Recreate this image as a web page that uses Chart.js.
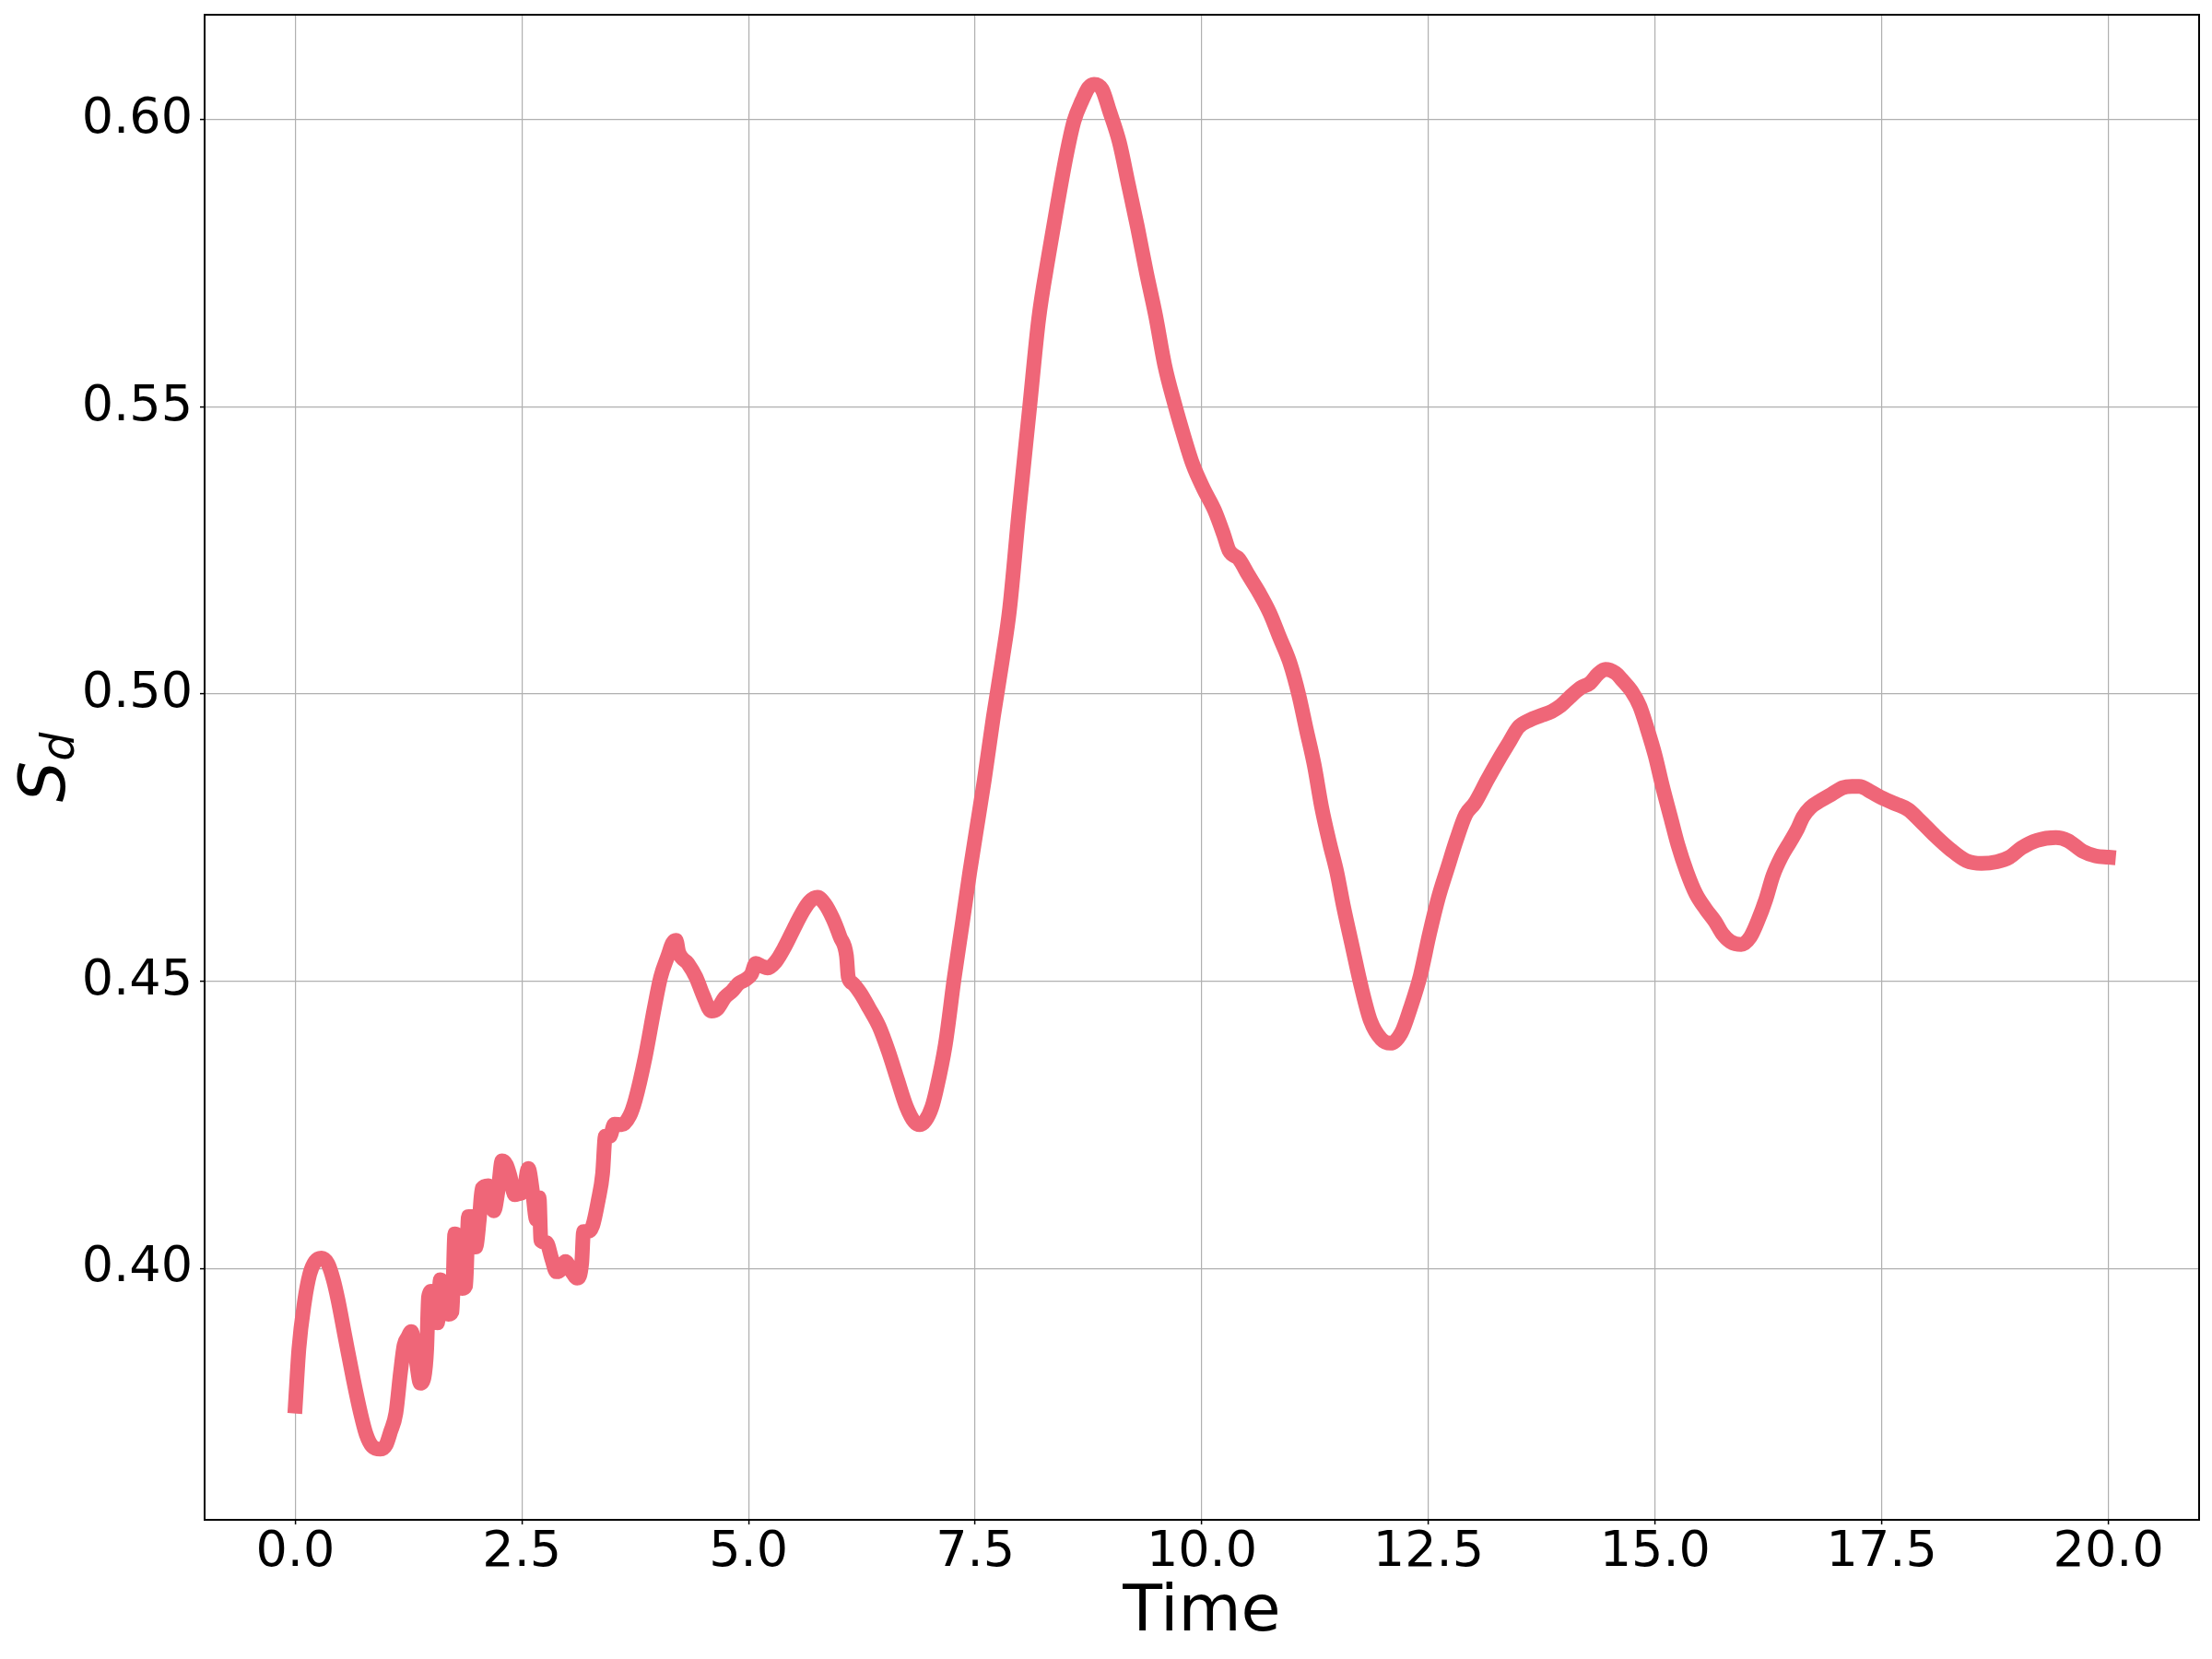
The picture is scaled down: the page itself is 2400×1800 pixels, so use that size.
<!DOCTYPE html>
<html><head><meta charset="utf-8">
<script src="https://cdn.jsdelivr.net/npm/chart.js@4"></script>
<style>html,body{margin:0;padding:0;background:#fff}canvas{display:block}</style>
</head><body>
<canvas id="c" width="2400" height="1800" style="width:2400px;height:1800px"></canvas>
<script>
const timeValues = [
 0.00,0.04,0.10,0.16,0.22,0.29,0.36,0.42,0.47,0.55,0.64,0.72,0.78,0.85,0.94,1.00,1.05,1.11,1.16,1.20,
 1.24,1.28,1.33,1.38,1.42,1.45,1.47,1.50,1.53,1.57,1.60,1.63,1.69,1.73,1.76,1.80,1.84,1.88,1.91,1.95,
 1.99,2.03,2.06,2.13,2.19,2.24,2.28,2.33,2.37,2.42,2.47,2.52,2.57,2.62,2.66,2.69,2.71,2.77,2.83,2.88,
 2.93,2.98,3.05,3.11,3.16,3.18,3.23,3.28,3.34,3.39,3.42,3.47,3.52,3.60,3.69,3.75,3.86,3.96,4.03,4.11,
 4.16,4.20,4.23,4.33,4.42,4.50,4.59,4.65,4.74,4.82,4.89,4.96,5.03,5.08,5.15,5.21,5.30,5.40,5.52,5.59,
 5.67,5.76,5.84,5.93,6.01,6.08,6.10,6.15,6.23,6.33,6.44,6.54,6.64,6.74,6.83,6.89,6.95,7.02,7.07,7.17,
 7.27,7.36,7.44,7.54,7.60,7.70,7.80,7.88,7.98,8.10,8.20,8.31,8.41,8.51,8.59,8.68,8.75,8.81,8.90,8.98,
 9.09,9.19,9.29,9.39,9.49,9.59,9.70,9.80,9.90,10.02,10.14,10.24,10.30,10.41,10.51,10.63,10.75,10.86,10.97,11.07,
 11.15,11.24,11.32,11.41,11.49,11.56,11.66,11.76,11.86,11.98,12.08,12.20,12.30,12.41,12.51,12.61,12.71,12.81,12.91,13.01,
 13.15,13.29,13.39,13.49,13.62,13.73,13.86,13.96,14.06,14.18,14.28,14.37,14.45,14.56,14.64,14.74,14.83,14.91,15.00,15.08,
 15.17,15.25,15.35,15.45,15.56,15.66,15.74,15.83,15.95,16.05,16.13,16.22,16.30,16.39,16.49,16.57,16.63,16.71,16.83,16.95,
 17.07,17.17,17.25,17.39,17.49,17.65,17.79,17.92,18.09,18.26,18.43,18.60,18.77,18.91,19.04,19.21,19.42,19.55,19.72,19.86,
 20.00
];
const sdValues = [
 0.3760,0.3860,0.3940,0.3990,0.4012,0.4018,0.4008,0.3980,0.3946,0.3880,0.3807,0.3748,0.3712,0.3690,0.3685,0.3692,0.3715,0.3748,0.3818,0.3866,
 0.3880,0.3890,0.3844,0.3800,0.3810,0.3860,0.3950,0.3960,0.3910,0.3905,0.3980,0.3970,0.3920,0.3925,0.4060,0.4050,0.3965,0.3970,0.4090,0.4090,
 0.4037,0.4085,0.4139,0.4144,0.4100,0.4139,0.4187,0.4180,0.4160,0.4128,0.4130,0.4135,0.4174,0.4130,0.4085,0.4123,0.4048,0.4045,0.4016,0.3994,
 0.3998,0.4012,0.3994,0.3983,0.4010,0.4064,0.4064,0.4074,0.4117,0.4165,0.4230,0.4230,0.4251,0.4250,0.4266,0.4293,0.4368,0.4453,0.4507,0.4544,
 0.4566,0.4571,0.4550,0.4531,0.4507,0.4475,0.4448,0.4451,0.4472,0.4483,0.4496,0.4502,0.4512,0.4531,0.4526,0.4523,0.4534,0.4560,0.4598,0.4619,
 0.4638,0.4646,0.4635,0.4609,0.4577,0.4544,0.4507,0.4496,0.4480,0.4453,0.4421,0.4379,0.4330,0.4282,0.4255,0.4250,0.4257,0.4280,0.4310,0.4389,
 0.4507,0.4603,0.4690,0.4790,0.4850,0.4960,0.5060,0.5149,0.5314,0.5499,0.5653,0.5764,0.5856,0.5942,0.5998,0.6034,0.6056,0.6062,0.6053,0.6016,
 0.5961,0.5887,0.5813,0.5733,0.5659,0.5573,0.5505,0.5450,0.5400,0.5357,0.5320,0.5278,0.5250,0.5235,0.5208,0.5177,0.5141,0.5098,0.5055,0.4998,
 0.4940,0.4876,0.4804,0.4740,0.4689,0.4632,0.4560,0.4489,0.4431,0.4399,0.4392,0.4410,0.4453,0.4510,0.4582,0.4646,0.4697,0.4747,0.4790,0.4810,
 0.4851,0.4890,0.4916,0.4942,0.4955,0.4962,0.4970,0.4980,0.4995,0.5011,0.5019,0.5035,0.5043,0.5037,0.5024,0.5005,0.4979,0.4941,0.4893,0.4840,
 0.4786,0.4738,0.4690,0.4652,0.4625,0.4604,0.4583,0.4569,0.4564,0.4577,0.4604,0.4642,0.4684,0.4716,0.4743,0.4765,0.4786,0.4802,0.4815,0.4826,
 0.4837,0.4839,0.4839,0.4829,0.4820,0.4809,0.4799,0.4780,0.4753,0.4729,0.4710,0.4705,0.4708,0.4716,0.4732,0.4745,0.4750,0.4745,0.4726,0.4718,
 0.4716
];
const xTickValues = [0, 2.5, 5, 7.5, 10, 12.5, 15, 17.5, 20];
const yTickValues = [0.40, 0.45, 0.50, 0.55, 0.60];
const xAxisLabel = 'Time';
const yLabelMain = 'S';
const yLabelSub = 'd';

const points = timeValues.map((t, i) => ({x: t, y: sdValues[i]}));

const framePlugin = {
  id: 'frame',
  afterDatasetsDraw(chart) {
    const {ctx, chartArea: a} = chart;
    ctx.save();
    ctx.strokeStyle = '#000';
    ctx.lineWidth = 2;
    ctx.strokeRect(a.left, a.top, a.right - a.left, a.bottom - a.top);
    ctx.restore();
  }
};

const yLabelPlugin = {
  id: 'ylabel',
  afterDraw(chart) {
    const ctx = chart.ctx, a = chart.chartArea;
    const cy = (a.top + a.bottom) / 2;
    ctx.save();
    ctx.translate(70, cy);
    ctx.rotate(-Math.PI / 2);
    ctx.fillStyle = '#000';
    ctx.textBaseline = 'alphabetic';
    ctx.textAlign = 'left';
    const big = 'italic 70px "DejaVu Sans"', small = 'italic 49px "DejaVu Sans"';
    ctx.font = big; const w1 = ctx.measureText(yLabelMain).width;
    ctx.font = small; const w2 = ctx.measureText(yLabelSub).width;
    const x0 = -(w1 + w2) / 2;
    ctx.font = big; ctx.fillText(yLabelMain, x0, 0);
    ctx.font = small; ctx.fillText(yLabelSub, x0 + w1, 10);
    ctx.restore();
  }
};

const zeroPad = s => { s.paddingTop = 0; s.paddingBottom = 0; s.paddingLeft = 0; s.paddingRight = 0; };
const tickFont = {family: 'DejaVu Sans', size: 54, lineHeight: 1};

new Chart(document.getElementById('c'), {
  type: 'line',
  data: {
    datasets: [{
      data: points,
      borderColor: '#ef6678',
      borderWidth: 16,
      pointRadius: 0,
      fill: false,
      cubicInterpolationMode: 'monotone',
      borderCapStyle: 'square',
      borderJoinStyle: 'round'
    }]
  },
  options: {
    responsive: false,
    animation: false,
    devicePixelRatio: 1,
    layout: {padding: {top: 16, right: 14, left: 0, bottom: 0}},
    plugins: {legend: {display: false}, tooltip: {enabled: false}},
    scales: {
      x: {
        type: 'linear', min: -1, max: 21,
        afterBuildTicks: s => { s.ticks = xTickValues.map(v => ({value: v})); },
        afterFit: s => { s.height = 151; zeroPad(s); },
        ticks: {font: tickFont, color: '#000', padding: 4, maxRotation: 0, autoSkip: false,
                callback: v => Number(v).toFixed(1)},
        grid: {color: '#b0b0b0', lineWidth: 1.2, tickLength: 5, tickColor: '#000', tickWidth: 1.5},
        border: {display: false},
        title: {display: true, text: xAxisLabel, color: '#000',
                font: {family: 'DejaVu Sans', size: 70, lineHeight: 1.2},
                padding: {top: 0, bottom: 7}}
      },
      y: {
        type: 'linear', min: 0.3562, max: 0.6183,
        afterBuildTicks: s => { s.ticks = yTickValues.map(v => ({value: v})); },
        afterFit: s => { s.width = 222; zeroPad(s); },
        ticks: {font: tickFont, color: '#000', padding: 8, autoSkip: false,
                callback: v => Number(v).toFixed(2)},
        grid: {color: '#b0b0b0', lineWidth: 1.2, tickLength: 5, tickColor: '#000', tickWidth: 1.5},
        border: {display: false}
      }
    }
  },
  plugins: [framePlugin, yLabelPlugin]
});
</script>
</body></html>
